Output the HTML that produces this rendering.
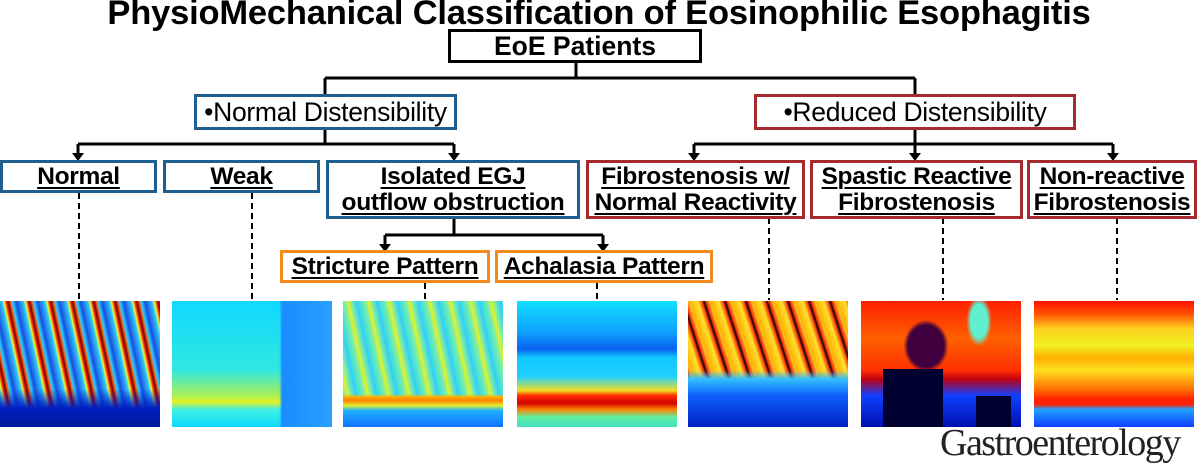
<!DOCTYPE html>
<html><head><meta charset="utf-8"><style>
*{margin:0;padding:0;box-sizing:border-box}
body{width:1198px;height:463px;background:#fff;position:relative;overflow:hidden;font-family:"Liberation Sans",Arial,sans-serif}
.t{position:absolute;left:0;width:1198px;top:-6px;text-align:center;font-weight:bold;font-size:34.5px;letter-spacing:-0.2px;white-space:nowrap}
.b{position:absolute;border:3px solid;background:#fff;display:flex;align-items:center;justify-content:center;text-align:center;line-height:26px;white-space:nowrap}
.bl{border-color:#1f5f8f}.rd{border-color:#a52a2f}.or{border-color:#f28a1e}.bk{border-color:#000}
.u{font-weight:bold;font-size:24.5px;text-decoration:underline;text-decoration-thickness:2px;text-underline-offset:3px;letter-spacing:-0.3px}
.n{font-size:26.5px;letter-spacing:-0.3px}
.im{position:absolute;top:301px;height:126px;width:160px}
svg{position:absolute;left:0;top:0}
</style></head><body>
<div class="t">PhysioMechanical Classification of Eosinophilic Esophagitis</div>
<svg width="1198" height="463">
<g stroke="#000" stroke-width="3" fill="none">
<path d="M576 62V78M325 78H915M325 78V95M915 78V95"/>
<path d="M325 128V144M78 144H454M78 144V156M454 144V156"/>
<path d="M915 128V144M694 144H1113M694 144V156M915 144V156M1113 144V156"/>
<path d="M454 218V235M385 235H603M385 235V246M603 235V246"/>
</g>
<g fill="#000">
<path d="M72 153h12l-6 8z"/><path d="M448 153h12l-6 8z"/>
<path d="M688 153h12l-6 8z"/><path d="M909 153h12l-6 8z"/><path d="M1107 153h12l-6 8z"/>
<path d="M379 244h12l-6 8z"/><path d="M597 244h12l-6 8z"/>
</g>
<g stroke="#000" stroke-width="2" stroke-dasharray="6,4">
<path d="M79 193V300M252 193V300M425 283V300M597 283V300M769 218V300M943 218V300M1117 218V300"/>
</g>
</svg>
<div class="b bk" style="left:448px;top:29px;width:254px;height:34px"><span style="font-weight:bold;font-size:26.5px">EoE Patients</span></div>
<div class="b bl" style="left:194px;top:94px;width:263px;height:36px"><span class="n">•Normal Distensibility</span></div>
<div class="b rd" style="left:754px;top:94px;width:322px;height:36px"><span class="n">•Reduced Distensibility</span></div>
<div class="b bl" style="left:0;top:160px;width:157px;height:33px"><span class="u">Normal</span></div>
<div class="b bl" style="left:163px;top:160px;width:157px;height:33px"><span class="u">Weak</span></div>
<div class="b bl" style="left:326px;top:160px;width:254px;height:59px"><span class="u">Isolated EGJ<br>outflow obstruction</span></div>
<div class="b rd" style="left:586px;top:160px;width:219px;height:59px"><span class="u">Fibrostenosis w/<br>Normal Reactivity</span></div>
<div class="b rd" style="left:810px;top:160px;width:213px;height:59px"><span class="u">Spastic Reactive<br>Fibrostenosis</span></div>
<div class="b rd" style="left:1027px;top:160px;width:170px;height:59px"><span class="u">Non-reactive<br>Fibrostenosis</span></div>
<div class="b or" style="left:280px;top:250px;width:210px;height:33px"><span class="u">Stricture Pattern</span></div>
<div class="b or" style="left:495px;top:250px;width:218px;height:33px"><span class="u">Achalasia Pattern</span></div>

<div class="im" style="left:0;width:160px;background:linear-gradient(180deg,transparent 0,transparent 70%,#0020c0 85%,#001a9a 100%),repeating-linear-gradient(78deg,#1a50e0 0,#30c8ff 7px,#e8ff30 9px,#ff3000 11px,#700000 13px,#ff5000 15px,#30d0ff 17px,#1050e0 21px)"></div>
<div class="im" style="left:172px;background:linear-gradient(90deg,transparent 0,transparent 67%,#1a8cff 69%,#2aa0ff 100%),linear-gradient(180deg,#10d8ff 0,#30e8e0 55%,#b0f050 76%,#e8f020 80%,#40f0e0 86%,#10d8ff 100%)"></div>
<div class="im" style="left:343px;background:linear-gradient(180deg,transparent 0,transparent 74%,#ffb000 76%,#ff8000 79%,#e0f030 83%,#20b0ff 87%,#1070ff 100%),repeating-linear-gradient(78deg,#30d8f0 0,#80f0a0 8px,#e8f020 11px,#80f0a0 14px,#30c8ff 20px)"></div>
<div class="im" style="left:517px;background:linear-gradient(180deg,#10e0ff 0,#10a0ff 25%,#0860f0 38%,#10c8ff 45%,#20d0ff 60%,#f0e020 71%,#ff3000 75%,#d00000 81%,#ff8000 86%,#60f0a0 92%,#40e0c0 100%)"></div>
<div class="im" style="left:688px;background:linear-gradient(180deg,transparent 0,transparent 55%,#30c0ff 62%,#1060ff 75%,#0020c0 100%),repeating-linear-gradient(72deg,#ffb000 0,#ffe030 8px,#ff4000 12px,#100010 14px,#ff3000 16px,#ffd030 20px)"></div>
<div class="im" style="left:861px;background:linear-gradient(#000030,#000030) 22px 68px/60px 58px no-repeat,linear-gradient(#000030,#000030) 115px 95px/35px 31px no-repeat,radial-gradient(ellipse 30px 35px at 65px 45px,#400040 60%,transparent 75%),radial-gradient(ellipse 14px 28px at 118px 20px,#60f0d0 60%,transparent 90%),linear-gradient(180deg,#ff2000 0,#ff6000 30%,#ff3000 55%,#c00010 62%,#1040ff 75%,#0010b0 100%)"></div>
<div class="im" style="left:1034px;background:linear-gradient(180deg,#ff1000 0,#ff5000 10%,#ffd020 22%,#f0f020 35%,#ffb000 45%,#ffe020 55%,#ff7000 70%,#ff2000 78%,#ff2000 82%,#20a0ff 86%,#1040ff 100%)"></div>

<div style="position:absolute;left:940px;top:421px;font-family:'Liberation Serif',serif;font-size:38px;letter-spacing:-1.5px;color:#222">Gastroenterology</div>
</body></html>
